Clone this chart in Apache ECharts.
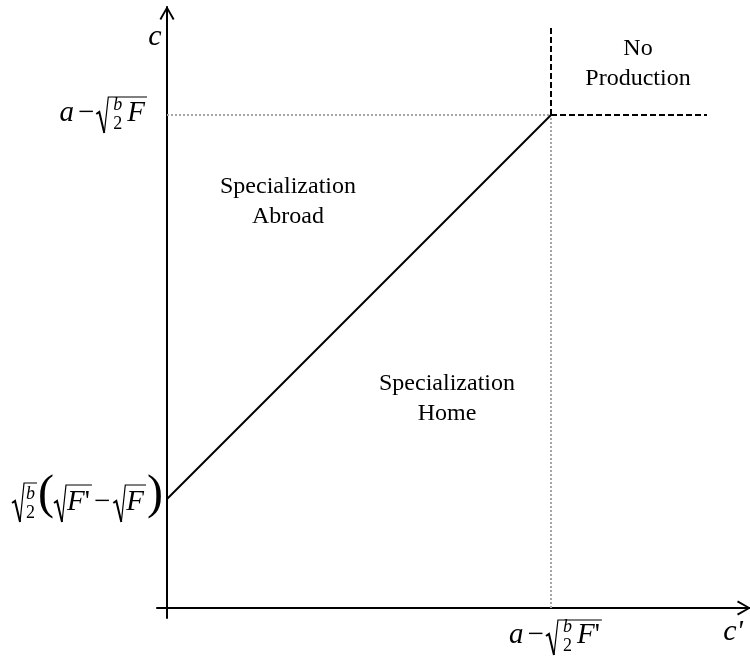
<!DOCTYPE html>
<html>
<head>
<meta charset="utf-8">
<script src="https://cdn.jsdelivr.net/npm/echarts@6/dist/echarts.min.js"></script>
<style>
  html, body { margin: 0; padding: 0; background: #fff; }
  #chart { width: 750px; height: 656px; }
</style>
</head>
<body>
<div id="chart"></div>
<script>
// diagram units, origin where the two axes cross
var kink = [384, 493];            // c' = a - sqrt(b/2 F') , c = a - sqrt(b/2 F)
var interceptY = 109;             // sqrt(b/2)(sqrt(F') - sqrt(F))
var boundary = [[0, 109], [384, 493]];
var noProdUp = [[384, 493], [384, 582]];
var noProdRight = [[384, 493], [540, 493]];
var guideToY = [[0, 493], [384, 493]];
var guideToX = [[384, 0], [384, 493]];

var regionNames = ['Specialization\nAbroad', 'Specialization\nHome', 'No\nProduction'];
var regionPos = [[121, 406], [280, 209], [471, 544]];

var axisNames = ['c', 'c\''];
var axisNamePos = [[-12, 571], [566, -24]];

// tick labels written as little formula token lists
var labelKinkY = [{ t: 'a', it: 1, gr: 4 }, { t: '\u2212', gr: 2 },
  { sqrt: [{ frac: ['b', '2'], gl: 4, gr: 5 }, { t: 'F', it: 1 }], top: -26 }];
var labelKinkX = [{ t: 'a', it: 1, gr: 4 }, { t: '\u2212', gr: 2 },
  { sqrt: [{ frac: ['b', '2'], gl: 4, gr: 5 }, { t: 'F', it: 1 }, { t: '\'' }], top: -25 }];
var labelIntercept = [{ sqrt: [{ frac: ['b', '2'], gl: 1 }], top: -29 }, { t: '(', s: 48 },
  { sqrt: [{ t: 'F', it: 1 }, { t: '\'' }], top: -27 }, { t: '\u2212', gl: 1, gr: 3 },
  { sqrt: [{ t: 'F', it: 1 }], top: -27 }, { t: ')', s: 48 }];

var SERIF = '"Liberation Serif", "Times New Roman", serif';
var BASE = 29, FRAC = 18;
var ctx = document.createElement('canvas').getContext('2d');

function fontStr(size, it) {
  return (it ? 'italic ' : '') + size + 'px ' + SERIF;
}
function textW(t, size, it) {
  ctx.font = fontStr(size, it);
  return ctx.measureText(t).width;
}
function txt(t, x, by, s, it) {
  return {
    type: 'text', x: x, y: by - 0.34 * s,
    style: { text: t, font: fontStr(s, it), fill: '#000', align: 'left', verticalAlign: 'middle' }
  };
}

// lay tokens out on a baseline at y = 0
function layout(tokens, x0) {
  var x = x0, els = [];
  tokens.forEach(function (tk) {
    x += tk.gl || 0;
    if (tk.frac) {
      var wn = textW(tk.frac[0], FRAC, true), wd = textW(tk.frac[1], FRAC, false);
      var w = Math.max(wn, wd);
      els.push(txt(tk.frac[0], x + (w - wn) / 2, -12, FRAC, true));
      els.push(txt(tk.frac[1], x + (w - wd) / 2, 7, FRAC, false));
      x += w;
    } else if (tk.sqrt) {
      var top = tk.top;
      var inner = layout(tk.sqrt, x + 13);
      els.push({
        type: 'polyline',
        shape: { points: [[x, -9], [x + 3, -11], [x + 8, 10]] },
        style: { stroke: '#000', lineWidth: 2, fill: null }
      });
      els.push({
        type: 'polyline',
        shape: { points: [[x + 8, 10], [x + 12, top], [inner.x + 2, top]] },
        style: { stroke: '#000', lineWidth: 1.2, fill: null }
      });
      els = els.concat(inner.els);
      x = inner.x + 3;
    } else {
      var s = tk.s || BASE;
      els.push(txt(tk.t, x, 0, s, tk.it));
      x += textW(tk.t, s, tk.it);
    }
    x += tk.gr || 0;
  });
  return { x: x, els: els };
}

var arrow = 'path://M7.5,0 L15,13 L13.3,14 L7.5,3.4 L1.7,14 L0,13 Z';

function axisOpt(min, max) {
  return {
    type: 'value', min: min, max: max,
    axisLine: {
      show: true, onZero: true,
      symbol: ['none', arrow], symbolSize: [15, 14], symbolOffset: [0, -6],
      lineStyle: { color: '#000', width: 2 }
    },
    axisTick: { show: false },
    axisLabel: { show: false },
    splitLine: { show: false }
  };
}

function lineSeries(data, style) {
  return { type: 'line', data: data, symbol: 'none', silent: true, lineStyle: style };
}

var chart = echarts.init(document.getElementById('chart'));
chart.setOption({
  animation: false,
  grid: { left: 157, right: 0, top: 7, bottom: 38, outerBoundsMode: 'none' },
  xAxis: axisOpt(-10, 583),
  yAxis: axisOpt(-10, 601),
  series: [
    lineSeries(guideToY, { color: '#a6a6a6', width: 2, type: [2, 2] }),
    lineSeries(guideToX, { color: '#a6a6a6', width: 2, type: [2, 2] }),
    lineSeries(noProdUp, { color: '#000', width: 2, type: [6, 3] }),
    lineSeries(noProdRight, { color: '#000', width: 2, type: [6, 3] }),
    lineSeries(boundary, { color: '#000', width: 2 }),
    {
      type: 'scatter', symbolSize: 0, silent: true,
      itemStyle: { opacity: 1 },
      data: regionPos.map(function (p, i) { return { name: regionNames[i], value: p }; }),
      label: {
        show: true, position: 'inside', formatter: '{b}',
        fontFamily: SERIF, fontSize: 24, lineHeight: 30, color: '#000', align: 'center'
      }
    },
    {
      type: 'scatter', symbolSize: 0, silent: true, clip: false,
      itemStyle: { opacity: 1 },
      data: axisNamePos.map(function (p, i) { return { name: axisNames[i], value: p }; }),
      label: {
        show: true, position: 'inside', formatter: '{b}',
        fontFamily: SERIF, fontStyle: 'italic', fontSize: 30, color: '#000'
      }
    }
  ]
});

// formula tick labels, anchored through the grid's own scales
function mathGroup(tokens, px, py, anchor) {
  var lay = layout(tokens, 0);
  var gx = anchor === 'right' ? px - lay.x : px - lay.x / 2;
  return { type: 'group', x: gx, y: py, children: lay.els, silent: true };
}
var pKinkY = chart.convertToPixel({ gridIndex: 0 }, [0, kink[1]]);
var pKinkX = chart.convertToPixel({ gridIndex: 0 }, [kink[0], 0]);
var pInt = chart.convertToPixel({ gridIndex: 0 }, [0, interceptY]);

chart.setOption({
  graphic: [
    mathGroup(labelKinkY, pKinkY[0] - 19, pKinkY[1] + 8, 'right'),
    mathGroup(labelKinkX, pKinkX[0] + 5, pKinkX[1] + 37, 'center'),
    mathGroup(labelIntercept, pInt[0] - 4, pInt[1] + 13, 'right')
  ]
});
</script>
</body>
</html>
